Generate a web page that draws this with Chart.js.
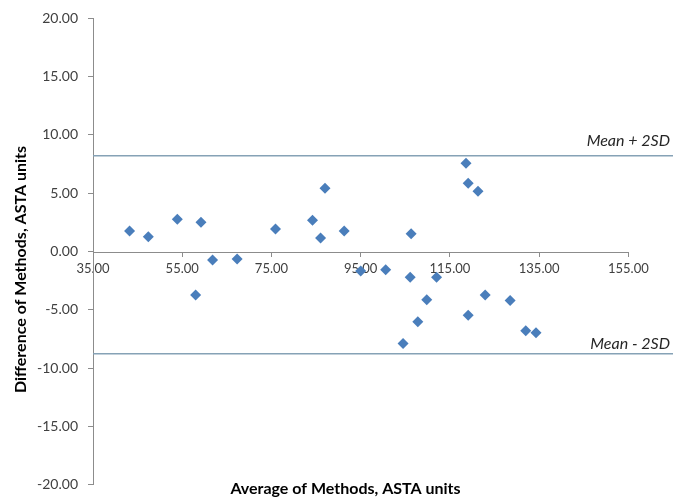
<!DOCTYPE html>
<html>
<head>
<meta charset="utf-8">
<script src="https://cdn.jsdelivr.net/npm/chart.js@4.4.1/dist/chart.umd.min.js"></script>
<style>
  html, body { margin: 0; padding: 0; background: #ffffff; }
  #wrap { width: 691px; height: 503px; position: relative; }
</style>
</head>
<body>
<div id="wrap"><canvas id="c" width="691" height="503"></canvas></div>
<script>
// ---- Data ----
const averageOfMethods = [43.2, 47.4, 53.9, 58.0, 59.2, 61.8, 67.3, 75.9, 84.2, 86.0, 87.0, 91.3, 95.0, 100.6, 104.5, 106.1, 106.3, 107.8, 109.8, 112.0, 118.6, 119.1, 119.1, 121.3, 122.9, 128.5, 132.0, 134.3];
const differenceOfMethods = [1.75, 1.27, 2.76, -3.73, 2.51, -0.74, -0.65, 1.92, 2.68, 1.15, 5.42, 1.75, -1.67, -1.56, -7.90, -2.20, 1.53, -6.02, -4.15, -2.20, 7.57, 5.85, -5.46, 5.17, -3.73, -4.20, -6.80, -6.98];
const meanPlus2SD = 8.22;
const meanMinus2SD = -8.77;
const limitLabels = ['Mean + 2SD', 'Mean - 2SD'];
const xTickValues = [35, 55, 75, 95, 115, 135, 155];
const yTickValues = [-20, -15, -10, -5, 0, 5, 10, 15, 20];
const xRange = [35, 165];
const yRange = [-20, 20];
const xTitle = 'Average of Methods, ASTA units';
const yTitle = 'Difference of Methods, ASTA units';

const points = averageOfMethods.map((x, i) => ({ x: x, y: differenceOfMethods[i] }));
const upperLine = [{ x: xRange[0], y: meanPlus2SD }, { x: xRange[1], y: meanPlus2SD }];
const lowerLine = [{ x: xRange[0], y: meanMinus2SD }, { x: xRange[1], y: meanMinus2SD }];

const FONT = 'Lato, "Open Sans", "DejaVu Sans", sans-serif';
const AXIS_COLOR = '#8c8c8c';
const TEXT_COLOR = '#404040';
const LIMIT_COLOR = '#86a2b6';

const extrasPlugin = {
  id: 'extras',
  afterDatasetsDraw(chart) {
    const ctx = chart.ctx;
    const xs = chart.scales.x, ys = chart.scales.y;
    ctx.save();
    // x axis line at y = 0, across the ticked range only
    const y0 = Math.round(ys.getPixelForValue(0)) + 0.5;
    ctx.strokeStyle = AXIS_COLOR;
    ctx.lineWidth = 1;
    ctx.beginPath();
    ctx.moveTo(xs.getPixelForValue(xTickValues[0]), y0);
    ctx.lineTo(xs.getPixelForValue(xTickValues[xTickValues.length - 1]), y0);
    ctx.stroke();
    // limit labels
    ctx.fillStyle = '#262626';
    ctx.font = 'italic 16px ' + FONT;
    ctx.textAlign = 'right';
    ctx.textBaseline = 'alphabetic';
    const xr = xs.getPixelForValue(xRange[1]) - 3;
    ctx.fillText(limitLabels[0], xr, ys.getPixelForValue(meanPlus2SD) - 10);
    ctx.fillText(limitLabels[1], xr, ys.getPixelForValue(meanMinus2SD) - 5);
    // y axis title
    ctx.fillStyle = '#000000';
    ctx.font = 'bold 16px ' + FONT;
    ctx.textAlign = 'center';
    ctx.textBaseline = 'middle';
    ctx.translate(21, (chart.chartArea.top + chart.chartArea.bottom) / 2 + 18);
    ctx.rotate(-Math.PI / 2);
    ctx.fillText(yTitle, 0, 0);
    ctx.restore();
  }
};

new Chart(document.getElementById('c'), {
  type: 'scatter',
  data: {
    datasets: [
      {
        label: 'Differences',
        data: points,
        pointStyle: 'rectRot',
        pointRadius: 5.5,
        pointHoverRadius: 5.5,
        backgroundColor: '#4a7ebb',
        borderColor: '#4a7ebb',
        borderWidth: 0,
        order: 0
      },
      {
        label: limitLabels[0],
        type: 'line',
        data: upperLine,
        borderColor: LIMIT_COLOR,
        borderWidth: 1.6,
        pointRadius: 0,
        fill: false,
        order: 1
      },
      {
        label: limitLabels[1],
        type: 'line',
        data: lowerLine,
        borderColor: LIMIT_COLOR,
        borderWidth: 1.6,
        pointRadius: 0,
        fill: false,
        order: 1
      }
    ]
  },
  options: {
    responsive: false,
    animation: false,
    events: [],
    layout: { padding: { top: 10, right: 18, left: 18, bottom: 0 } },
    plugins: {
      legend: { display: false },
      tooltip: { enabled: false },
      title: {
        display: true,
        position: 'bottom',
        text: xTitle,
        color: '#000000',
        font: { family: FONT, size: 16, weight: 'bold' },
        padding: { top: -5, bottom: 3 }
      }
    },
    scales: {
      x: {
        type: 'linear',
        position: { y: 0 },
        min: xRange[0],
        max: xRange[1],
        afterBuildTicks(scale) {
          scale.ticks = xTickValues.map(v => ({ value: v }));
        },
        ticks: {
          color: TEXT_COLOR,
          font: { family: FONT, size: 13 },
          padding: 5,
          maxRotation: 0,
          autoSkip: false,
          callback: v => Number(v).toFixed(2)
        },
        grid: {
          drawOnChartArea: false,
          drawTicks: true,
          tickLength: 5,
          color: AXIS_COLOR
        },
        border: { display: false }
      },
      y: {
        type: 'linear',
        position: 'left',
        min: yRange[0],
        max: yRange[1],
        afterBuildTicks(scale) {
          scale.ticks = yTickValues.map(v => ({ value: v }));
        },
        afterFit(scale) { scale.width = 75; },
        ticks: {
          color: TEXT_COLOR,
          font: { family: FONT, size: 14 },
          padding: 10,
          autoSkip: false,
          callback: v => Number(v).toFixed(2)
        },
        grid: {
          drawOnChartArea: false,
          drawTicks: true,
          tickLength: 5,
          color: AXIS_COLOR
        },
        border: { display: true, color: AXIS_COLOR, width: 1 },
        title: { display: false }
      }
    }
  },
  plugins: [extrasPlugin]
});
</script>
</body>
</html>
